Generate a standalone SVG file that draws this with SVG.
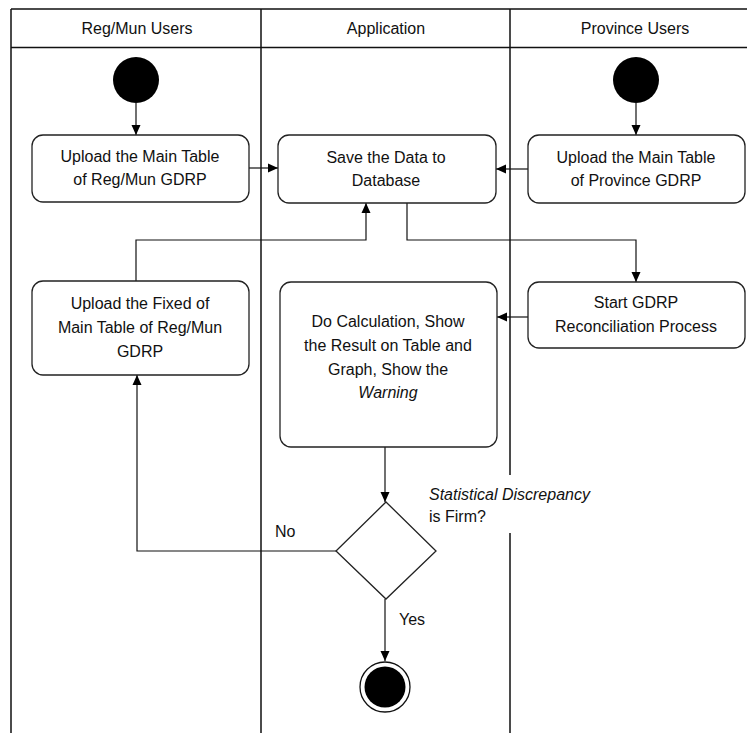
<svg xmlns="http://www.w3.org/2000/svg" width="747" height="733" viewBox="0 0 747 733">
<style>
text{font-family:"Liberation Sans",Arial,sans-serif;font-size:16px;fill:#111;text-anchor:middle}
.lane{stroke:#111;stroke-width:1.5;fill:none}
.box{fill:#fff;stroke:#222;stroke-width:1.3}
.edge{stroke:#111;stroke-width:1.2;fill:none}
.lbl{text-anchor:start}
</style>
<defs>
<marker id="arr" markerUnits="userSpaceOnUse" markerWidth="10" markerHeight="10" viewBox="0 0 10 10" refX="10" refY="5" orient="auto">
<path d="M0,0.5 L10,5 L0,9.5 Z" fill="#000"/>
</marker>
</defs>
<rect width="747" height="733" fill="#fff"/>
<g id="lanes">
<path class="lane" d="M11,9 H747 M11,47.5 H747 M11,9 V733 M261,9 V733 M510,9 V475 M510,533 V733"/>
<text x="137" y="34">Reg/Mun Users</text>
<text x="386" y="34">Application</text>
<text x="635" y="34">Province Users</text>
</g>
<g id="connectors">
<path class="edge" d="M136,103 V135" marker-end="url(#arr)"/>
<path class="edge" d="M636,103 V135" marker-end="url(#arr)"/>
<path class="edge" d="M249,168 H278" marker-end="url(#arr)"/>
<path class="edge" d="M528,169 H496" marker-end="url(#arr)"/>
<path class="edge" d="M136,281 V240 H366 V203" marker-end="url(#arr)"/>
<path class="edge" d="M407,203 V240 H636 V282" marker-end="url(#arr)"/>
<path class="edge" d="M528,317 H497" marker-end="url(#arr)"/>
<path class="edge" d="M385,447 V502" marker-end="url(#arr)"/>
<path class="edge" d="M336,551 H137 V375" marker-end="url(#arr)"/>
<path class="edge" d="M385,599 V661" marker-end="url(#arr)"/>
<text class="lbl" x="275" y="537">No</text>
<text class="lbl" x="399" y="625">Yes</text>
</g>
<g id="start-reg">
<circle cx="136" cy="80" r="23" fill="#000"/>
</g>
<g id="start-prov">
<circle cx="636" cy="80" r="23" fill="#000"/>
</g>
<g id="upload-reg">
<rect class="box" x="32" y="135" width="217" height="67" rx="11"/>
<text x="140" y="162">Upload the Main Table</text>
<text x="140" y="185">of Reg/Mun GDRP</text>
</g>
<g id="save-data">
<rect class="box" x="278" y="135" width="218" height="68" rx="11"/>
<text x="386" y="163">Save the Data to</text>
<text x="386" y="186">Database</text>
</g>
<g id="upload-prov">
<rect class="box" x="528" y="135" width="217" height="68" rx="11"/>
<text x="636" y="163">Upload the Main Table</text>
<text x="636" y="186">of Province GDRP</text>
</g>
<g id="upload-fixed">
<rect class="box" x="32" y="281" width="217" height="94" rx="11"/>
<text x="140" y="309">Upload the Fixed of</text>
<text x="140" y="333">Main Table of Reg/Mun</text>
<text x="140" y="357">GDRP</text>
</g>
<g id="calculation">
<rect class="box" x="280" y="282" width="217" height="165" rx="11"/>
<text x="388" y="327">Do Calculation, Show</text>
<text x="388" y="351">the Result on Table and</text>
<text x="388" y="375">Graph, Show the</text>
<text x="388" y="398" font-style="italic">Warning</text>
</g>
<g id="start-reconciliation">
<rect class="box" x="528" y="282" width="217" height="66" rx="11"/>
<text x="636" y="308">Start GDRP</text>
<text x="636" y="332">Reconciliation Process</text>
</g>
<g id="decision">
<path class="box" d="M386,502 L436,551 L386,599 L336,551 Z"/>
<text class="lbl" x="429" y="500" font-style="italic">Statistical Discrepancy</text>
<text class="lbl" x="429" y="522">is Firm?</text>
</g>
<g id="end">
<circle cx="385" cy="687" r="25" fill="#fff" stroke="#111" stroke-width="1.3"/>
<circle cx="385" cy="687" r="20.5" fill="#000"/>
</g>
</svg>
